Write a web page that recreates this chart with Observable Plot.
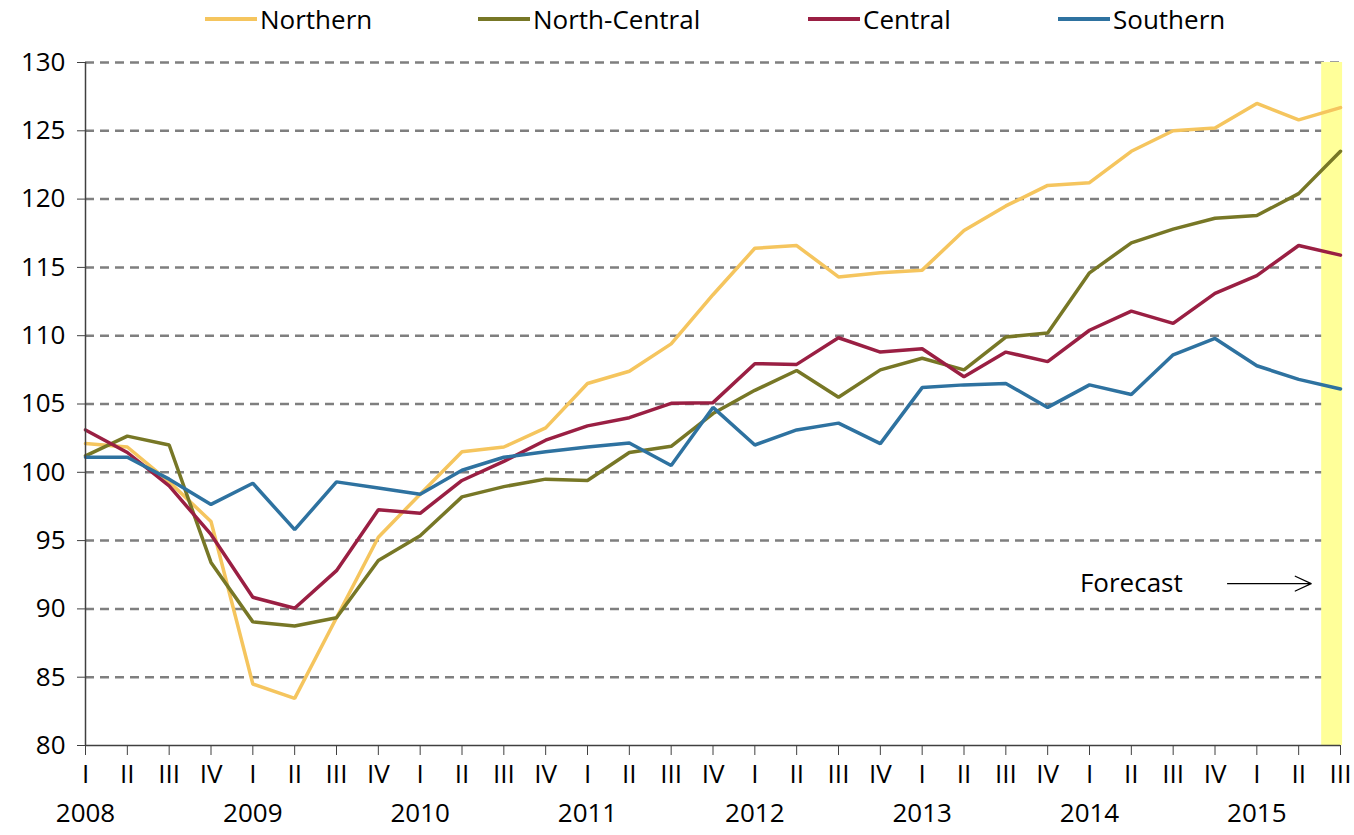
<!DOCTYPE html>
<html>
<head>
<meta charset="utf-8">
<script src="https://cdn.jsdelivr.net/npm/d3@7"></script>
<script src="https://cdn.jsdelivr.net/npm/@observablehq/plot@0.6"></script>
<style>
  body { margin: 0; background: #fff; font-family: "Open Sans", sans-serif; }
  #wrap { position: relative; width: 1354px; height: 835px; }
  #legend { position: absolute; top: 0; left: 0; width: 1354px; height: 40px; font-size: 26px; color: #000; }
  .item { position: absolute; top: 1px; display: flex; align-items: center; }
  .sw { width: 52px; height: 3.5px; margin-right: 3px; }
  #chart { position: absolute; top: 0; left: 0; }
</style>
</head>
<body>
<div id="wrap">
  <div id="chart"></div>
  <div id="legend"></div>
</div>
<script>
// ---- data (quarterly index, 2008 Q1 .. 2015 Q3) ----
const years = [2008, 2009, 2010, 2011, 2012, 2013, 2014, 2015];
const quarterNames = ["I", "II", "III", "IV"];
const seriesNames = ["Northern", "North-Central", "Central", "Southern"];
const seriesColors = ["#F5C55E", "#777726", "#9A1F43", "#2E72A0"];

const northern = [102.1, 101.85, 99.3, 96.4, 84.5, 83.45, 89.35, 95.25, 98.4, 101.5, 101.85, 103.25, 106.5, 107.4, 109.4, 113.0, 116.4, 116.6, 114.3, 114.6, 114.8, 117.7, 119.5, 121.0, 121.2, 123.5, 125.0, 125.2, 127.0, 125.8, 126.7];
const northCentral = [101.2, 102.65, 102.0, 93.4, 89.05, 88.75, 89.35, 93.55, 95.35, 98.2, 98.95, 99.5, 99.4, 101.45, 101.9, 104.3, 106.0, 107.45, 105.5, 107.5, 108.35, 107.5, 109.9, 110.2, 114.6, 116.8, 117.8, 118.6, 118.8, 120.4, 123.5];
const central = [103.1, 101.45, 99.0, 95.45, 90.85, 90.05, 92.8, 97.25, 97.0, 99.4, 100.8, 102.35, 103.4, 104.0, 105.05, 105.1, 107.95, 107.9, 109.85, 108.8, 109.05, 107.0, 108.8, 108.1, 110.4, 111.8, 110.9, 113.1, 114.4, 116.6, 115.9];
const southern = [101.1, 101.1, 99.5, 97.65, 99.2, 95.8, 99.3, 98.85, 98.4, 100.15, 101.1, 101.5, 101.85, 102.15, 100.5, 104.75, 102.0, 103.1, 103.6, 102.1, 106.2, 106.4, 106.5, 104.75, 106.4, 105.7, 108.6, 109.8, 107.8, 106.8, 106.1];

const yTicks = [80, 85, 90, 95, 100, 105, 110, 115, 120, 125, 130];
const forecastStart = 29.55; // forecast band start (quarter index)
const forecastEnd = 30.05;
const forecastLabel = [{x: 25, y: 91.85, text: "Forecast"}];
const forecastArrow = [{x1: 27.3, x2: 29.3, y: 91.85}];

// ---- build table ----
const allSeries = [northern, northCentral, central, southern];
const rows = [];
allSeries.forEach((vals, s) => vals.forEach((v, i) => rows.push({i, value: v, series: seriesNames[s]})));
const nQ = northern.length;
const qIdx = d3.range(nQ);
const yearIdx = years.map((y, k) => k * 4);

const plot = Plot.plot({
  width: 1354,
  height: 835,
  marginLeft: 85,
  marginRight: 14,
  marginTop: 62,
  marginBottom: 90,
  style: {fontFamily: "Open Sans, sans-serif", fontSize: "26px", color: "#000", background: "#fff"},
  x: {domain: [0, nQ - 1], axis: null},
  y: {domain: [80, 130], axis: null},
  color: {domain: seriesNames, range: seriesColors},
  marks: [
    Plot.ruleY(yTicks.filter(v => v > 80), {stroke: "#7f7f7f", strokeWidth: 2.5, strokeDasharray: "9,6"}),
    Plot.rect([{x1: forecastStart, x2: forecastEnd}], {x1: "x1", x2: "x2", y1: 80, y2: 130, fill: "#FFFF99"}),
    Plot.line(rows, {x: "i", y: "value", z: "series", stroke: "series", strokeWidth: 3.5, strokeLinejoin: "miter"}),
    Plot.ruleX([0], {y1: 80, y2: 130, stroke: "#404040", strokeWidth: 1.5}),
    Plot.ruleY([80], {stroke: "#404040", strokeWidth: 1.5}),
    Plot.axisY({ticks: yTicks, tickSize: 8, tickPadding: 12, fontSize: 26, stroke: "#404040"}),
    Plot.axisX({ticks: qIdx, tickSize: 10, tickPadding: 9, fontSize: 26, stroke: "#404040",
      tickFormat: i => quarterNames[i % 4]}),
    Plot.axisX({ticks: yearIdx, tickSize: 0, tickPadding: 0, dy: 58, fontSize: 26,
      tickFormat: i => String(years[Math.floor(i / 4)])}),
    Plot.text(forecastLabel, {x: "x", y: "y", text: "text", fontSize: 26, fill: "#000"}),
    Plot.arrow(forecastArrow, {x1: "x1", x2: "x2", y1: "y", y2: "y", stroke: "#000", strokeWidth: 1.2, headLength: 22, headAngle: 50})
  ]
});
document.getElementById("chart").appendChild(plot);

// ---- legend ----
const legendX = [205, 478, 808, 1058];
const legend = d3.select("#legend");
seriesNames.forEach((name, k) => {
  const it = legend.append("div").attr("class", "item").style("left", legendX[k] + "px");
  it.append("div").attr("class", "sw").style("background", seriesColors[k]);
  it.append("span").text(name);
});
</script>
</body>
</html>
